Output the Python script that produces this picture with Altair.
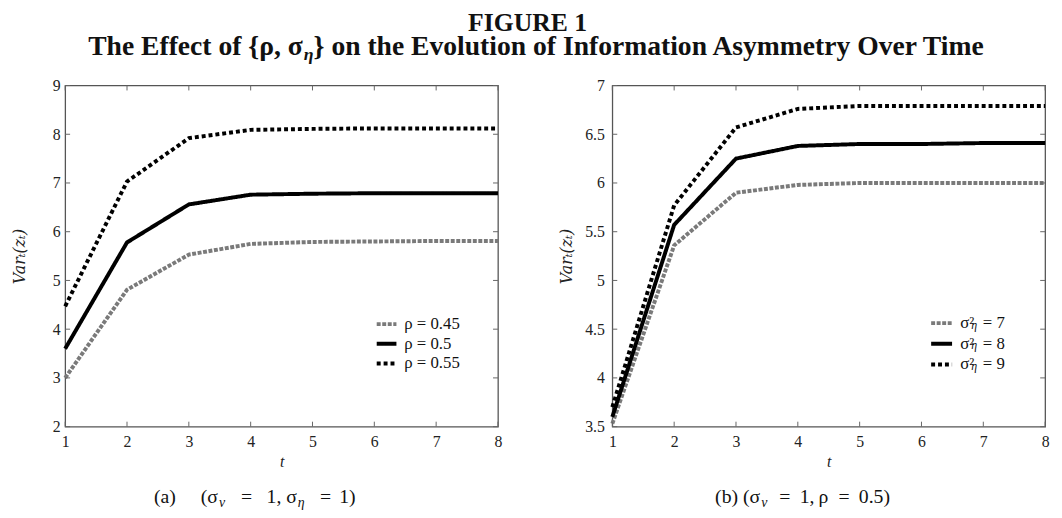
import altair as alt
import pandas as pd

# ---------------- data ----------------
T = [1, 2, 3, 4, 5, 6, 7, 8]

RHO_LABELS = ["ρ = 0.45", "ρ = 0.5", "ρ = 0.55"]
RHO_045 = [3.00, 4.81, 5.53, 5.75, 5.79, 5.80, 5.81, 5.81]
RHO_050 = [3.60, 5.78, 6.56, 6.76, 6.78, 6.79, 6.79, 6.79]
RHO_055 = [4.47, 7.03, 7.92, 8.09, 8.11, 8.12, 8.12, 8.12]

SIG_LABELS = ["σ²\u00a0\u00a0= 7", "σ²\u00a0\u00a0= 8", "σ²\u00a0\u00a0= 9"]
SIG_7 = [3.53, 5.36, 5.90, 5.98, 6.00, 6.00, 6.00, 6.00]
SIG_8 = [3.60, 5.57, 6.25, 6.38, 6.40, 6.40, 6.41, 6.41]
SIG_9 = [3.70, 5.77, 6.57, 6.76, 6.79, 6.79, 6.79, 6.79]

Y_TICKS_A = [2, 3, 4, 5, 6, 7, 8, 9]
Y_TICKS_B = [3.5, 4, 4.5, 5, 5.5, 6, 6.5, 7]

FIG_TITLE = "FIGURE 1"
TITLE_PART1 = "The Effect of {ρ, σ"
TITLE_SUB = "η"
TITLE_PART2 = "} on the Evolution of Information Asymmetry Over Time"

# ---------------- styles ----------------
COLORS = ["#7a7a7a", "#000000", "#000000"]
DASHES = [[4, 1.6], [1, 0], [4, 3]]
W, H = 439, 346
SERIF = "Liberation Serif"
FRAME = "#555555"


def long_df(labels, series):
    rows = []
    for lab, vals in zip(labels, series):
        for t, v in zip(T, vals):
            rows.append({"t": t, "v": v, "s": lab})
    return pd.DataFrame(rows)


def legend(x, y, size, rowpad):
    return alt.Legend(
        orient="none", legendX=x, legendY=y, title=None,
        symbolType="stroke", symbolSize=size, symbolStrokeWidth=4,
        labelFont=SERIF, labelFontSize=17, labelColor="#111",
        labelOffset=6, rowPadding=rowpad, padding=0,
    )


def text(s, x, y, size=16, align="left", weight="normal", style="normal"):
    return alt.Chart(pd.DataFrame({"k": [0]})).mark_text(
        font=SERIF, fontSize=size, align=align, baseline="alphabetic",
        fontWeight=weight, fontStyle=style, color="#111",
    ).encode(x=alt.value(x), y=alt.value(y), text=alt.value(s))


def panel(df, labels, ydom, yticks, leg, ylabpad):
    xs = alt.Scale(domain=[1, 8], nice=False)
    ys = alt.Scale(domain=ydom, nice=False, zero=False)
    ax_x = alt.Axis(
        values=T, format="d", ticks=False, domain=False, grid=False,
        labelFlush=False, labelOverlap=False, labelPadding=7,
        labelFont=SERIF, labelFontSize=16, labelColor="#222",
        title="t", titleFont=SERIF, titleFontSize=16,
        titleFontStyle="italic", titleFontWeight="normal",
        titlePadding=4, titleColor="#222")
    ax_y = alt.Axis(
        values=yticks, format="~g", ticks=False, domain=False, grid=False,
        labelFlush=False, labelOverlap=False, labelPadding=ylabpad,
        labelFont=SERIF, labelFontSize=16, labelColor="#222",
        title="Varₜ(zₜ)", titleFont="DejaVu Serif", titleFontSize=16,
        titleFontStyle="italic", titleFontWeight="normal",
        titleX=-46, titleY=H / 2, titleAngle=-90, titleAlign="center",
        titleBaseline="middle", titleColor="#222")
    lines = alt.Chart(df).mark_line(strokeWidth=4, strokeCap="butt").encode(
        x=alt.X("t:Q", scale=xs, axis=ax_x),
        y=alt.Y("v:Q", scale=ys, axis=ax_y),
        color=alt.Color("s:N", scale=alt.Scale(domain=labels, range=COLORS), legend=leg),
        strokeDash=alt.StrokeDash("s:N", scale=alt.Scale(domain=labels, range=DASHES), legend=leg),
    )
    tx = pd.DataFrame({"t": T})
    ty = pd.DataFrame({"v": yticks})
    tick = dict(color="#666", strokeWidth=1)
    X = alt.X("t:Q", scale=xs, axis=ax_x)
    Y = alt.Y("v:Q", scale=ys, axis=ax_y)
    top = alt.Chart(tx).mark_rule(**tick).encode(x=X, y=alt.value(0), y2=alt.value(5))
    bot = alt.Chart(tx).mark_rule(**tick).encode(x=X, y=alt.value(H - 5), y2=alt.value(H))
    lft = alt.Chart(ty).mark_rule(**tick).encode(y=Y, x=alt.value(0), x2=alt.value(5))
    rgt = alt.Chart(ty).mark_rule(**tick).encode(y=Y, x=alt.value(W - 5), x2=alt.value(W))
    return [lines, top, bot, lft, rgt]


df_a = long_df(RHO_LABELS, [RHO_045, RHO_050, RHO_055])
df_b = long_df(SIG_LABELS, [SIG_7, SIG_8, SIG_9])

layers_a = panel(df_a, RHO_LABELS, [2, 9], Y_TICKS_A, legend(314, 230, 400, 0), 5)
layers_a += [
    text(FIG_TITLE, 469, -55, size=26, align="center", weight="bold"),
    text(TITLE_PART1, 241, -31, size=28, align="right", weight="bold"),
    text(TITLE_SUB, 242, -26, size=18, align="left", weight="bold", style="italic"),
    text(TITLE_PART2, 252, -31, size=28, align="left", weight="bold"),
    text("(a)", 90, 423, size=20),
    text("(σ", 155, 423, size=20, align="right"),
    text("v", 156, 428, size=14, style="italic"),
    text("=", 184, 423, size=20, align="center"),
    text("1, σ", 235, 423, size=20, align="right"),
    text("η", 236, 428, size=14, style="italic"),
    text("=", 264, 423, size=20, align="center"),
    text("1)", 278, 423, size=20),
]

layers_b = panel(df_b, SIG_LABELS, [3.5, 7], Y_TICKS_B, legend(321, 228, 450, 0), 8)
layers_b += [
    text("(b) (σ", 150, 423, size=20, align="right"),
    text("v", 151, 428, size=14, style="italic"),
    text("=", 175, 423, size=20, align="center"),
    text("1,", 190, 423, size=20),
    text("ρ", 209, 423, size=20),
    text("=", 235, 423, size=20, align="center"),
    text("0.5)", 250, 423, size=20),
]
for i in range(3):
    layers_b.append(text("η", 364, 247 + i * 20.6, size=12, style="italic"))

left = alt.layer(*layers_a).properties(width=W, height=H)
right = alt.layer(*layers_b).properties(width=W, height=H)

chart = alt.hconcat(left, right, spacing=116, bounds="flush").resolve_scale(
    color="independent", strokeDash="independent"
).properties(
    padding={"left": 3, "top": -2, "right": 0, "bottom": 0}
).configure(font=SERIF).configure_view(stroke=FRAME, strokeWidth=1.3).configure_axis(
    grid=False, labelFont=SERIF, titleFont=SERIF
).configure_legend(labelFont=SERIF)

chart.save("out.html", embed_options={"renderer": "svg", "actions": False})
